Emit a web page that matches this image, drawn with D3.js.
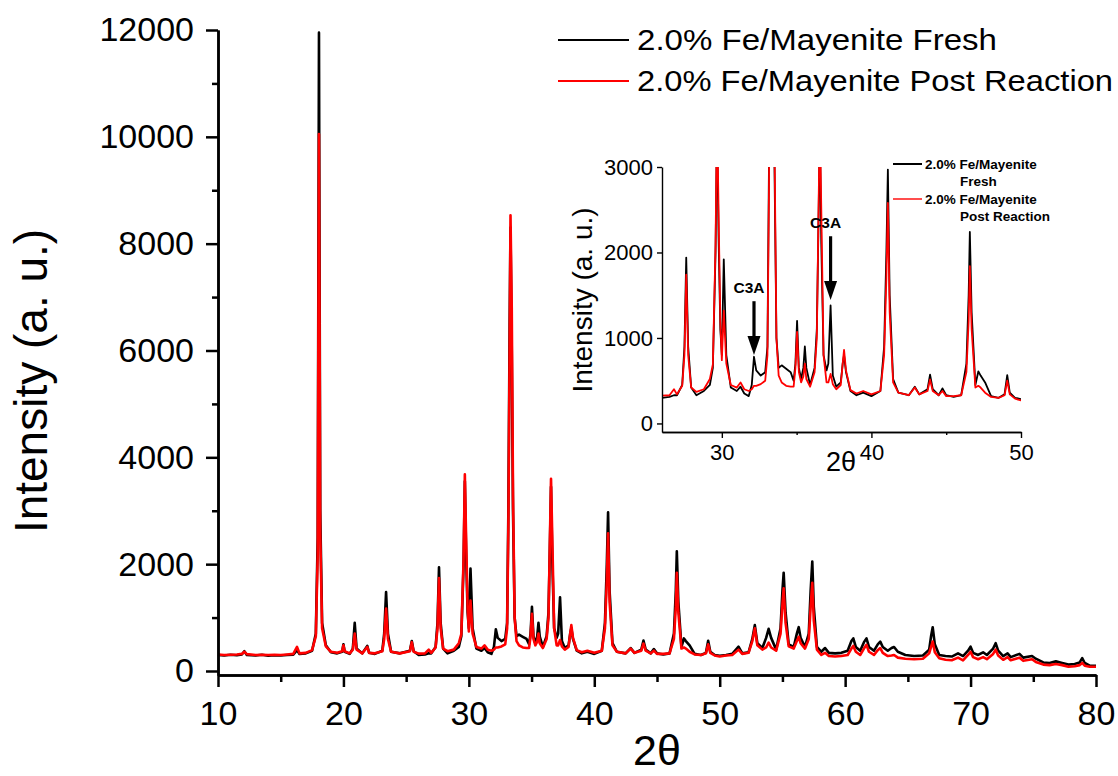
<!DOCTYPE html>
<html>
<head>
<meta charset="utf-8">
<script src="https://cdn.jsdelivr.net/npm/d3@7"></script>
<style>
  body { margin: 0; background: #fff; }
  svg { display: block; font-family: "Liberation Sans", Arial, sans-serif; }
</style>
</head>
<body>
<div id="chart"></div>
<script>
// 2-theta positions shared by both patterns
const twoTheta = [
  10.0, 10.5, 11.0, 11.5, 11.9, 12.1, 12.3, 13.0, 13.5, 14.0, 14.5, 15.0, 15.5, 16.0, 16.3, 16.5, 17.0, 17.5,
  17.8, 17.95, 18.05, 18.15, 18.3, 18.6, 19.0, 19.5, 19.9, 20.0, 20.1, 20.5,
  20.75, 20.9, 21.05, 21.5, 21.9, 22.05, 22.5, 23.1, 23.25, 23.4, 23.55, 23.8, 24.5, 25.3, 25.45, 25.6,
  26.0, 26.5, 26.8, 27.0, 27.35, 27.5, 27.62, 27.75, 27.95, 28.3, 28.8, 29.2, 29.4, 29.58, 29.68, 29.78, 29.9, 30.0, 30.13, 30.3, 30.6,
  31.0, 31.25, 31.5, 31.8, 32.0, 32.15, 32.3, 32.6, 32.9, 33.05, 33.15, 33.25, 33.32, 33.42, 33.52, 33.65, 33.8,
  34.0, 34.3, 34.6, 34.8, 34.92, 35.03, 35.15, 35.3, 35.45, 35.55, 35.65, 35.9, 36.2, 36.35, 36.45, 36.55, 36.65, 36.8, 37.0, 37.12, 37.27, 37.42, 37.65, 37.95, 38.08, 38.17, 38.3, 38.6,
  39.0, 39.45, 40.0, 40.6, 40.85, 41.0, 41.1, 41.22, 41.45, 41.8, 42.5, 42.9, 43.2, 43.75, 43.92, 44.1, 44.5, 44.75, 45.0, 45.5, 46.0, 46.35, 46.5, 46.58, 46.7, 46.95, 47.15, 47.3, 47.6, 48.0, 48.5, 48.9, 49.08, 49.25, 49.6, 50.0,
  50.5, 51.0, 51.5, 51.8, 52.3, 52.6, 52.8, 53.0, 53.4, 53.7, 53.9, 54.1, 54.5, 54.85, 55.0, 55.1, 55.25, 55.5, 55.9, 56.15, 56.3, 56.45, 56.8, 57.1, 57.25, 57.38, 57.5, 57.75, 58.1, 58.4, 58.7,
  59.2, 59.7, 60.2, 60.5, 60.65, 60.85, 61.2, 61.5, 61.7, 61.9, 62.3, 62.6, 62.8, 63.0, 63.4, 63.7, 63.9, 64.2, 64.8, 65.5,
  66.2, 66.7, 66.85, 66.98, 67.15, 67.5, 68.0, 68.5, 69.0, 69.4, 69.8, 70.0, 70.2, 70.6, 71.0, 71.3, 71.8, 72.0, 72.2, 72.6,
  72.95, 73.2, 73.9, 74.2, 74.9, 75.2, 75.8, 76.3, 76.8, 77.3, 77.8, 78.3, 78.7, 78.9, 79.1, 79.5, 80.0
];

// intensity, fresh sample
const fresh = [
  300, 290, 305, 295, 310, 370, 300, 290, 305, 285, 295, 290, 300, 305, 390, 320, 330, 380,
  700, 2500, 11950, 3000, 900, 480, 350, 330, 360, 500, 360, 320,
  420, 900, 420, 330, 470, 340, 320, 380, 700, 1480, 700, 360, 330, 380, 560, 370,
  300, 310, 330, 330, 450, 900, 1940, 900, 420, 330, 380, 450, 650, 2000, 3550, 2200, 1100, 800, 1920, 800, 420,
  380, 430, 350, 320, 450, 780, 620, 560, 600, 900, 3000, 6500, 8300, 6000, 3000, 1000, 650,
  680, 640, 600, 500, 700, 1200, 650, 520, 650, 900, 650, 450, 650, 1100, 2200, 3450, 2100, 800, 620, 700, 1380, 560, 430, 480, 700, 800, 600, 380,
  330, 360, 320, 380, 900, 2000, 2970, 1500, 520, 360, 330, 430, 340, 400, 570, 400, 330, 410, 330, 310, 330, 700, 1500, 2240, 1300, 450, 610, 560, 480, 320, 300, 340, 565, 360, 300, 285,
  300, 320, 455, 330, 350, 600, 860, 520, 430, 620, 790, 620, 400, 800, 1500, 1840, 1100, 500, 450, 700, 820, 620, 450, 700, 1500, 2050, 1200, 450, 360, 430, 340,
  330, 340, 380, 560, 610, 450, 380, 540, 610, 450, 380, 500, 550, 450, 380, 430, 450, 360, 300, 280,
  290, 400, 650, 820, 500, 300, 280, 270, 330, 280, 380, 455, 340, 300, 350, 300, 420, 520, 380, 280,
  330, 260, 320, 250, 280, 230, 160, 150, 180, 150, 120, 130, 160, 240, 150, 100, 95
];

// intensity, post reaction sample
const post = [
  310, 300, 305, 310, 320, 360, 315, 300, 305, 300, 305, 300, 310, 320, 450, 330, 340, 390,
  650, 2200, 10050, 2600, 800, 460, 360, 340, 370, 480, 370, 330,
  400, 700, 400, 330, 450, 340, 330, 370, 600, 1170, 600, 360, 330, 370, 540, 360,
  325, 330, 400, 340, 440, 800, 1740, 800, 420, 370, 400, 520, 690, 2100, 3680, 2500, 1200, 740, 1320, 700, 450,
  420, 480, 400, 380, 400, 440, 440, 460, 500, 800, 2700, 6000, 8530, 6800, 3300, 1000, 560,
  480, 440, 430, 430, 650, 1070, 600, 480, 550, 700, 520, 430, 600, 1000, 2300, 3600, 2500, 800, 480, 480, 580, 460, 400, 450, 700, 860, 620, 390,
  350, 380, 340, 380, 800, 1700, 2580, 1300, 480, 360, 330, 420, 340, 380, 515, 380, 330, 380, 320, 320, 330, 600, 1200, 1840, 1100, 420, 440, 420, 360, 310, 300, 330, 500, 340, 290, 270,
  290, 300, 400, 320, 340, 560, 800, 480, 400, 440, 530, 440, 380, 700, 1250, 1550, 900, 460, 420, 560, 640, 520, 420, 600, 1200, 1650, 950, 400, 300, 340, 280,
  270, 280, 300, 420, 470, 360, 300, 420, 490, 360, 300, 390, 430, 340, 280, 290, 300, 250, 230, 220,
  230, 330, 450, 550, 350, 240, 210, 200, 250, 200, 300, 360, 260, 220, 260, 220, 320, 400, 290, 210,
  260, 200, 250, 190, 220, 170, 120, 110, 130, 110, 80, 90, 110, 150, 100, 80, 80
];

const seriesNames = ["2.0% Fe/Mayenite Fresh", "2.0% Fe/Mayenite Post Reaction"];
const insetNames = [["2.0% Fe/Mayenite", "Fresh"], ["2.0% Fe/Mayenite", "Post Reaction"]];
const seriesColors = ["#000000", "#ff0000"];

const mainXTicks = [10, 20, 30, 40, 50, 60, 70, 80];
const mainXMinor = [15, 25, 35, 45, 55, 65, 75];
const mainYTicks = [0, 2000, 4000, 6000, 8000, 10000, 12000];
const mainYMinor = [1000, 3000, 5000, 7000, 9000, 11000];
const insetXTicks = [30, 40, 50];
const insetXMinor = [35, 45];
const insetYTicks = [0, 1000, 2000, 3000];

// C3A arrows in the inset: position, arrow top, arrow tip
const c3aTheta = [32.15, 37.27];
const c3aTop = [1430, 2190];
const c3aTip = [800, 1445];

if (fresh.length !== twoTheta.length || post.length !== twoTheta.length) {
  console.log("length mismatch", twoTheta.length, fresh.length, post.length);
}

const width = 1118;
const height = 776;
const fmt = d3.format("d");

const svg = d3.select("#chart")
  .append("svg")
  .attr("width", width)
  .attr("height", height);

const points = twoTheta.map((t, i) => ({ t: t, f: fresh[i], p: post[i] }));

// ---------- main plot ----------
const x = d3.scaleLinear().domain([10, 80]).range([218, 1096]);
const y = d3.scaleLinear().domain([-75, 12000]).range([675, 30]);

const lineF = d3.line().x(d => x(d.t)).y(d => y(d.f));
const lineP = d3.line().x(d => x(d.t)).y(d => y(d.p));

svg.append("path").datum(points)
  .attr("d", lineF).attr("fill", "none")
  .attr("stroke", seriesColors[0]).attr("stroke-width", 2.6)
  .attr("stroke-linejoin", "round");
svg.append("path").datum(points)
  .attr("d", lineP).attr("fill", "none")
  .attr("stroke", seriesColors[1]).attr("stroke-width", 2.6)
  .attr("stroke-linejoin", "round");

function styleAxis(g, sw, fs) {
  g.select(".domain").attr("stroke-width", sw);
  g.selectAll(".tick line").attr("stroke-width", sw);
  g.selectAll(".tick text")
    .attr("font-family", "'Liberation Sans', Arial, sans-serif")
    .attr("font-size", fs).attr("fill", "#000");
}

svg.append("g").attr("transform", "translate(218,0)")
  .call(d3.axisLeft(y).tickValues(mainYMinor).tickSize(6).tickSizeOuter(0).tickFormat(""))
  .call(g => styleAxis(g, 2.5, 0));
svg.append("g").attr("transform", "translate(218,0)")
  .call(d3.axisLeft(y).tickValues(mainYTicks).tickSize(12).tickPadding(12).tickSizeOuter(0).tickFormat(fmt))
  .call(g => styleAxis(g, 2.5, 34));

svg.append("g").attr("transform", "translate(0,675)")
  .call(d3.axisBottom(x).tickValues(mainXMinor).tickSize(7).tickSizeOuter(0).tickFormat(""))
  .call(g => styleAxis(g, 2.5, 0));
svg.append("g").attr("transform", "translate(0,675)")
  .call(d3.axisBottom(x).tickValues(mainXTicks).tickSize(12).tickPadding(14).tickSizeOuter(0).tickFormat(fmt))
  .call(g => styleAxis(g, 2.5, 34));

svg.append("text")
  .attr("transform", "translate(47,381) rotate(-90)")
  .attr("text-anchor", "middle")
  .attr("font-size", 46)
  .text("Intensity (a. u.)");

svg.append("text")
  .attr("x", 657).attr("y", 765)
  .attr("text-anchor", "middle")
  .attr("font-size", 43)
  .text("2θ");

// main legend
const legendWidths = [360, 476];
const legend = svg.append("g").attr("id", "legend");
legend.selectAll("line")
  .data(seriesNames)
  .enter()
  .append("line")
  .attr("x1", 558).attr("x2", 629)
  .attr("y1", (d, i) => 40 + i * 41)
  .attr("y2", (d, i) => 40 + i * 41)
  .attr("stroke", (d, i) => seriesColors[i])
  .attr("stroke-width", 2.2);
legend.selectAll("text")
  .data(seriesNames)
  .enter()
  .append("text")
  .attr("x", 637)
  .attr("y", (d, i) => 50 + i * 41)
  .attr("font-size", 29)
  .attr("textLength", (d, i) => legendWidths[i])
  .attr("lengthAdjust", "spacingAndGlyphs")
  .text(d => d);

// ---------- inset ----------
const ix = d3.scaleLinear().domain([26, 50]).range([662, 1021]);
const iy = d3.scaleLinear().domain([-100, 3000]).range([432, 167]);

svg.append("clipPath").attr("id", "insetClip")
  .append("rect")
  .attr("x", 662).attr("y", 167)
  .attr("width", 1021 - 662).attr("height", 432 - 167);

const inset = svg.append("g").attr("clip-path", "url(#insetClip)");
const ilineF = d3.line().x(d => ix(d.t)).y(d => iy(d.f));
const ilineP = d3.line().x(d => ix(d.t)).y(d => iy(d.p));
const insetPts = points.filter(d => d.t >= 25.5 && d.t <= 50.5);

inset.append("path").datum(insetPts)
  .attr("d", ilineF).attr("fill", "none")
  .attr("stroke", seriesColors[0]).attr("stroke-width", 1.8)
  .attr("stroke-linejoin", "round");
inset.append("path").datum(insetPts)
  .attr("d", ilineP).attr("fill", "none")
  .attr("stroke", seriesColors[1]).attr("stroke-width", 1.8)
  .attr("stroke-linejoin", "round");

svg.append("g").attr("transform", "translate(662,0)")
  .call(d3.axisLeft(iy).tickValues(insetYTicks).tickSize(5).tickPadding(4).tickSizeOuter(0).tickFormat(fmt))
  .call(g => styleAxis(g, 1.4, 22));
svg.append("g").attr("transform", "translate(0,432)")
  .call(d3.axisBottom(ix).tickValues(insetXMinor).tickSize(3).tickSizeOuter(0).tickFormat(""))
  .call(g => styleAxis(g, 1.4, 0));
svg.append("g").attr("transform", "translate(0,432)")
  .call(d3.axisBottom(ix).tickValues(insetXTicks).tickSize(6).tickPadding(6).tickSizeOuter(0).tickFormat(fmt))
  .call(g => styleAxis(g, 1.4, 22));

svg.append("text")
  .attr("transform", "translate(592,300) rotate(-90)")
  .attr("text-anchor", "middle")
  .attr("font-size", 28)
  .text("Intensity (a. u.)");

svg.append("text")
  .attr("x", 841).attr("y", 471)
  .attr("text-anchor", "middle")
  .attr("font-size", 27)
  .text("2θ");

// inset legend
const ileg = svg.append("g");
insetNames.forEach((n, i) => {
  const yy = 164 + i * 35;
  ileg.append("line")
    .attr("x1", 893).attr("x2", 922)
    .attr("y1", yy).attr("y2", yy)
    .attr("stroke", seriesColors[i])
    .attr("stroke-width", i === 0 ? 2 : 1.4);
  ileg.append("text")
    .attr("x", 925).attr("y", yy + 5)
    .attr("font-size", 13.5).attr("font-weight", "bold")
    .text(n[0]);
  ileg.append("text")
    .attr("x", 960).attr("y", yy + 22)
    .attr("font-size", 13.5).attr("font-weight", "bold")
    .text(n[1]);
});

// C3A arrows
c3aTheta.forEach((t, i) => {
  const cx = ix(t);
  const top = iy(c3aTop[i]);
  const tip = iy(c3aTip[i]);
  svg.append("line")
    .attr("x1", cx).attr("x2", cx)
    .attr("y1", top).attr("y2", tip - 15)
    .attr("stroke", "#000").attr("stroke-width", 3.2);
  svg.append("path")
    .attr("d", `M${cx - 6.5},${tip - 19} L${cx + 6.5},${tip - 19} L${cx},${tip} Z`)
    .attr("fill", "#000");
  svg.append("text")
    .attr("x", cx - 5).attr("y", top - 8)
    .attr("text-anchor", "middle")
    .attr("font-size", 15.5).attr("font-weight", "bold")
    .text("C3A");
});
</script>
</body>
</html>
